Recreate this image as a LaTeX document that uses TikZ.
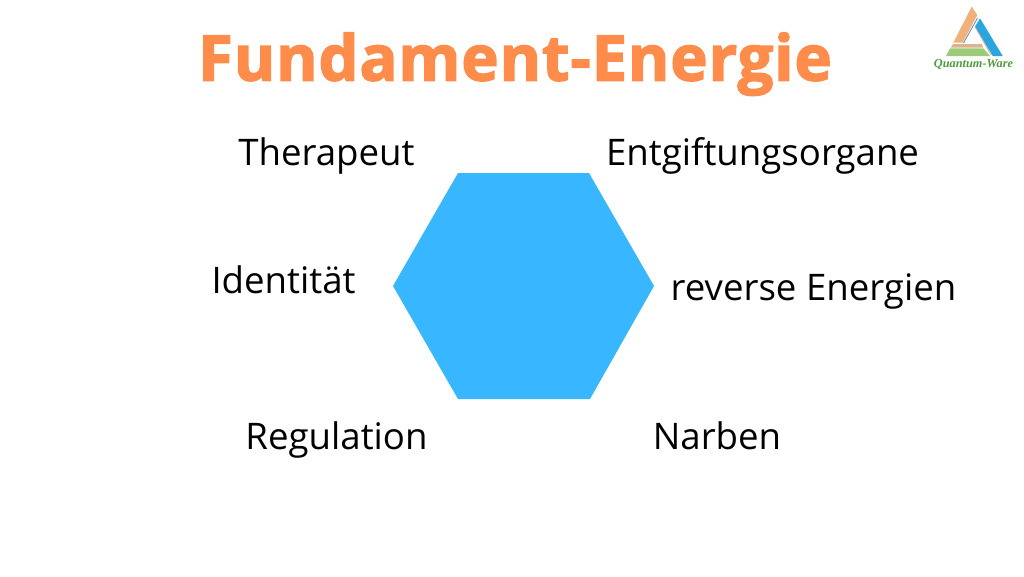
\documentclass[tikz,border=0pt]{standalone}
\usepackage{fontspec}
\setmainfont{Open Sans}
\newfontfamily\titlefont[FakeBold=2.4,LetterSpace=1.6]{Open Sans Bold}
\newfontfamily\logofont{Liberation Serif}
\usepackage{xcolor}
\usetikzlibrary{positioning}
\definecolor{titleorange}{HTML}{FF8C4B}
\definecolor{hexblue}{HTML}{38B6FF}
\definecolor{logoorange}{HTML}{F0B27A}
\definecolor{logotan}{HTML}{D9B48F}
\definecolor{logoblue}{HTML}{2AA5E0}
\definecolor{logogreen}{HTML}{9CCB78}
\definecolor{logoline}{HTML}{5F8F9F}
\definecolor{logotext}{HTML}{4E9A3C}
\tikzset{
	label/.style={font=\fontsize{36.6}{40}\selectfont, text=black, inner sep=0pt, anchor=base},
	logopart/.style={draw=none}
}

\begin{document}
\begin{tikzpicture}[x=1pt,y=-1pt]
	\useasboundingbox[fill=white] (0,0) rectangle (1024,576);

	% Titel
	\node[font=\titlefont\fontsize{63}{70}\selectfont, text=titleorange, inner sep=0pt, anchor=base] (title) at (515,80.5) {Fundament-Energie};

	% Sechseck
	\fill[hexblue] (393,286) -- (458,173) -- (589,173) -- (654,286) -- (590,399) -- (458,399) -- cycle;

	% Beschriftungen
	\node[label] (therapeut) at (326.5,165.5) {Therapeut};
	\node[label] (entgiftung) at (762.5,165.5) {Entgiftungsorgane};
	\node[label] (identitaet) at (283.5,293.5) {Identität};
	\node[label] (reverse) at (813.5,300) {reverse Energien};
	\node[label] (regulation) at (336.5,449) {Regulation};
	\node[label] (narben) at (717,449) {Narben};

	% Logo
	\fill[logopart, logoorange] (971.7,6.7) -- (977.3,15) -- (962.7,42.7) -- (953.3,42.7) -- cycle;
	\fill[logopart, logoblue] (980,18.3) -- (1002.7,56) -- (992.7,56) -- (975,26.7) -- cycle;
	\fill[logopart, logotan] (953,44) -- (981.7,44) -- (983.3,47.7) -- (950.7,47.7) -- cycle;
	\fill[logopart, logogreen] (950,48.3) -- (983.3,48.3) -- (990,56) -- (946,56) -- cycle;
	\draw[logoline, line width=0.8pt] (977.5,18) -- (963.5,43);
	\draw[logotan, line width=0.8pt] (975,27) -- (991,55);
	\node[font=\logofont\itshape\bfseries\fontsize{12.3}{13}\selectfont, text=logotext, inner sep=0pt] (logotext) at (973.5,64.5) {Quantum-Ware};
\end{tikzpicture}
\end{document}
